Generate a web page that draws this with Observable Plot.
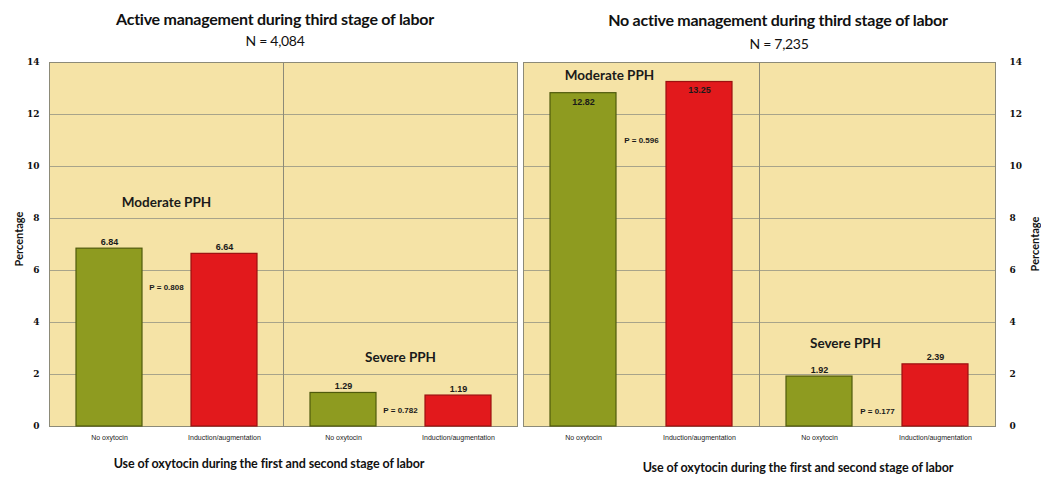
<!DOCTYPE html>
<html>
<head>
<meta charset="utf-8">
<script src="https://cdn.jsdelivr.net/npm/d3@7"></script>
<script src="https://cdn.jsdelivr.net/npm/@observablehq/plot@0.6"></script>
<style>
  html, body { margin: 0; padding: 0; background: #ffffff; }
  #wrap { position: relative; width: 1041px; height: 478px; overflow: hidden; font-family: Lato, "Open Sans", sans-serif; color: #111; }
  .t { position: absolute; transform: translateX(-50%); white-space: nowrap; text-align: center; }
  .title { font-weight: bold; font-size: 16px; letter-spacing: -0.25px; }
  .sub { font-size: 14px; letter-spacing: -0.3px; }
  .xl { font-weight: bold; font-size: 12.5px; letter-spacing: -0.1px; }
  .yl { position: absolute; font-weight: bold; font-size: 11px; white-space: nowrap; transform: translate(-50%, -50%) rotate(-90deg); }
  .panel { position: absolute; top: 52px; }
</style>
</head>
<body>
<div id="wrap">
  <div class="t title" style="left:275px; top:9px;">Active management during third stage of labor</div>
  <div class="t sub" style="left:275px; top:32px;">N = 4,084</div>
  <div class="t title" style="left:778px; top:10px;">No active management during third stage of labor</div>
  <div class="t sub" style="left:779px; top:35px;">N = 7,235</div>
  <div class="yl" style="left:18px; top:239px;">Percentage</div>
  <div class="yl" style="left:1034px; top:244px;">Percentage</div>
  <div class="t xl" style="left:269px; top:456px;">Use of oxytocin during the first and second stage of labor</div>
  <div class="t xl" style="left:798px; top:460px;">Use of oxytocin during the first and second stage of labor</div>
  <div id="left" class="panel" style="left:0px;"></div>
  <div id="right" class="panel" style="left:520px;"></div>
</div>
<script>
// ---- data ----
const groups = ["Moderate PPH", "Severe PPH"];
const oxytocin = ["No oxytocin", "Induction/augmentation"];
const activeValues = [6.84, 6.64, 1.29, 1.19];       // Moderate: no oxy, induction; Severe: no oxy, induction
const noActiveValues = [12.82, 13.25, 1.92, 2.39];
const activePValues = ["P = 0.808", "P = 0.782"];
const noActivePValues = ["P = 0.596", "P = 0.177"];
const activePY = [5.35, 0.6];
const noActivePY = [11.0, 0.58];
const activeGroupY = [8.6, 2.65];
const noActiveGroupY = [13.5, 3.2];
const yTicks = [0, 2, 4, 6, 8, 10, 12, 14];

const barColors = ["#8E9B20", "#E2191C"];
const barStrokes = ["#4f5a0c", "#9c1010"];

function panel({values, pvals, pY, gY, gDx, side, marginLeft, marginRight, width}) {
  const data = groups.flatMap((g, i) => oxytocin.map((o, j) => ({group: g, oxy: o, value: values[i * 2 + j]})));
  const inside = d => d.value > 12;
  return Plot.plot({
    width, height: 404,
    marginTop: 10, marginBottom: 30, marginLeft, marginRight,
    style: {background: "transparent", fontFamily: "'Liberation Sans', Arial, sans-serif"},
    fx: {domain: groups, padding: 0, axis: null, label: null},
    x: {domain: oxytocin, paddingInner: 0.43, paddingOuter: 0.23, label: null, tickSize: 0, tickPadding: 9},
    y: {domain: [0, 14], ticks: yTicks, label: null, axis: null},
    color: {domain: oxytocin, range: barColors},
    marks: [
      Plot.frame({fill: "#F5E3A6", stroke: null}),
      Plot.gridY(yTicks, {stroke: "#a8a48a", strokeOpacity: 1, strokeWidth: 1}),
      Plot.frame({stroke: "#8c8a78", strokeWidth: 1}),
      Plot.barY(data, {fx: "group", x: "oxy", y: "value", fill: "oxy",
        stroke: d => barStrokes[oxytocin.indexOf(d.oxy)], strokeWidth: 1.2}),
      Plot.text(data.filter(d => !inside(d)), {fx: "group", x: "oxy", y: "value",
        text: d => d.value.toFixed(2), lineAnchor: "bottom", dy: -4,
        fontWeight: "bold", fontSize: 9, fill: "#1a1a1a"}),
      Plot.text(data.filter(inside), {fx: "group", x: "oxy", y: "value",
        text: d => d.value.toFixed(2), lineAnchor: "top", dy: 5,
        fontWeight: "bold", fontSize: 9, fill: "#1a1a1a"}),
      Plot.text(groups, {fx: d => d, y: (d, i) => gY[i], dx: (gDx || 0),
        text: d => d, fontWeight: "bold", fontSize: 13.5, fontFamily: "Lato, 'Open Sans', sans-serif", fill: "#1a1a1a"}),
      Plot.text(pvals, {fx: (d, i) => groups[i], y: (d, i) => pY[i],
        text: d => d, fontWeight: "bold", fontSize: 8, fill: "#1a1a1a"}),
      Plot.axisX({fontSize: 7, tickSize: 0, tickPadding: 9, fill: "#222"}),
      Plot.axisY(yTicks, {anchor: side, tickSize: 0, tickPadding: side === "left" ? 10 : 14,
        fontWeight: "bold", fontSize: 9, fontFamily: "'DejaVu Serif', serif", label: null})
    ]
  });
}

document.getElementById("left").append(panel({
  values: activeValues, pvals: activePValues, pY: activePY, gY: activeGroupY, gDx: 0,
  side: "left", marginLeft: 48, marginRight: 3, width: 520
}));
document.getElementById("right").append(panel({
  values: noActiveValues, pvals: noActivePValues, pY: noActivePY, gY: noActiveGroupY, gDx: -32,
  side: "right", marginLeft: 3, marginRight: 46, width: 521
}));
</script>
</body>
</html>
